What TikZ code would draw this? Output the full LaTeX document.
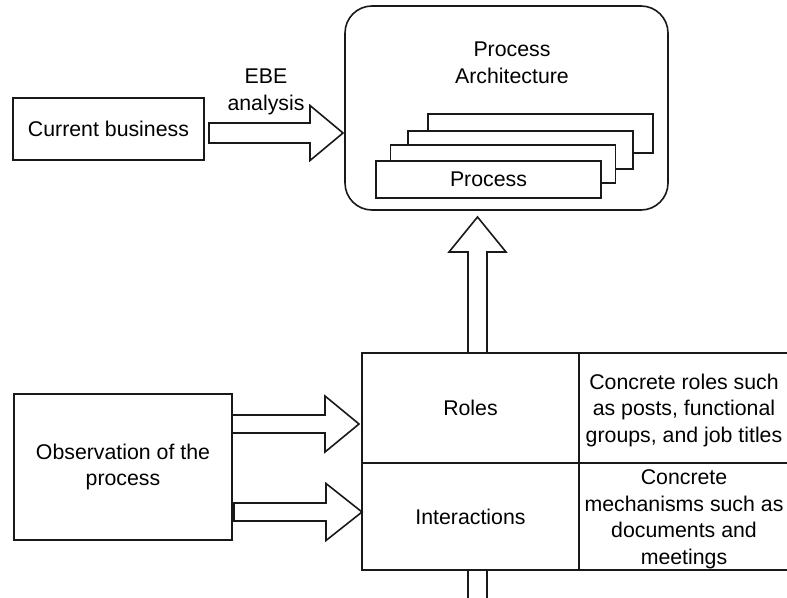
\documentclass[tikz,border=0pt]{standalone}
\usepackage{fontspec}
\setmainfont{Liberation Sans}
\usetikzlibrary{calc}

\tikzset{
  lbl/.style={font=\fontsize{21.3pt}{26.5pt}\selectfont, align=center, inner sep=0pt},
  boxline/.style={draw=black!90, line width=1.6pt},
  plainbox/.style={boxline, fill=white, inner sep=0pt, outer sep=0pt},
  procbox/.style={plainbox, minimum width=225pt, minimum height=38pt},
  cell/.style={boxline, inner sep=0pt, outer sep=0pt},
  blockarrow/.style={boxline, fill=white, line join=miter},
}

% horizontal block arrow: start, tip, shaft half width, head half width, head length
\newcommand\hblockarrow[5]{%
  \path[blockarrow] let \p1=(#1), \p2=(#2) in
    (\x1,\y1+#3) -- (\x2-#5,\y1+#3) -- (\x2-#5,\y1+#4) -- (\x2,\y1)
    -- (\x2-#5,\y1-#4) -- (\x2-#5,\y1-#3) -- (\x1,\y1-#3) -- cycle;}
% upward block arrow: start, tip, shaft half width, head half width, head length
\newcommand\vblockarrow[5]{%
  \path[blockarrow] let \p1=(#1), \p2=(#2) in
    (\x1-#3,\y1) -- (\x1-#3,\y2-#5) -- (\x1-#4,\y2-#5) -- (\x1,\y2)
    -- (\x1+#4,\y2-#5) -- (\x1+#3,\y2-#5) -- (\x1+#3,\y1) -- cycle;}

\begin{document}
\begin{tikzpicture}[x=1pt, y=-1pt]
\useasboundingbox (0,0) rectangle (787,597);

% process architecture container
\node[boxline, rounded corners=27pt, minimum width=323pt, minimum height=204pt,
      inner sep=0pt] (arch) at (506.5,108) {};
\node[lbl] (archtitle) at (512,63) {Process\\Architecture};

% stacked process cards, back to front
\node[procbox, minimum height=39pt] (p4) at (540.5,133.5) {};
\node[procbox] (p3) at (520.5,150) {};
\node[procbox] (p2) at (503,164) {};
\node[procbox, minimum height=37pt, lbl] (p1) at (488.5,179.5) {Process};

% current business
\node[plainbox, minimum width=191pt, minimum height=62pt, lbl] (cur) at (108.5,129) {Current business};
\coordinate (ebeS) at (209,133);
\coordinate (ebeT) at (343,133);
\hblockarrow{ebeS}{ebeT}{10pt}{27.5pt}{33pt}
\node[lbl] (ebe) at (266,92) {EBE\\analysis};

% observation
\node[plainbox, minimum width=218pt, minimum height=146pt, lbl] (obs) at (123,467) {Observation of the\\process};

% table of roles and interactions
\node[cell, minimum width=217pt, minimum height=110pt] (roles) at (470.5,408) {};
\node[cell, minimum width=210pt, minimum height=110pt] (rolesd) at (684,408) {};
\node[cell, minimum width=217pt, minimum height=107pt] (inter) at (470.5,516.5) {};
\node[cell, minimum width=210pt, minimum height=107pt] (interd) at (684,516.5) {};
\node[lbl] (rolesT) at (roles) {Roles};
\node[lbl] (rolesdT) at ([yshift=-2pt]rolesd.center)
  {Concrete roles such\\as posts, functional\\groups, and job titles};
\node[lbl] (interT) at (inter) {Interactions};
\node[lbl] (interdT) at ([yshift=-3pt]interd.center)
  {Concrete\\mechanisms such as\\documents and\\meetings};

% arrows from observation into the table
\coordinate (o1S) at (232,424);
\coordinate (o1T) at (359,424);
\hblockarrow{o1S}{o1T}{9pt}{28pt}{34pt}
\coordinate (o2S) at (234,512);
\coordinate (o2T) at (362,512);
\hblockarrow{o2S}{o2T}{9pt}{28.5pt}{36pt}

% arrow from table up to the architecture
\coordinate (upS) at (roles.north -| 477.5,0);
\coordinate (upT) at (477.5,217);
\vblockarrow{upS}{upT}{9.5pt}{28.5pt}{35pt}

% continuation below the table
\coordinate (stubS) at (477.5,603);
\coordinate (stubT) at (inter.south -| 477.5,0);
\path[blockarrow] let \p1=(stubS), \p2=(stubT) in
  (\x1-9.5pt,\y1) -- (\x1-9.5pt,\y2) -- (\x1+9.5pt,\y2) -- (\x1+9.5pt,\y1);
\end{tikzpicture}
\end{document}
